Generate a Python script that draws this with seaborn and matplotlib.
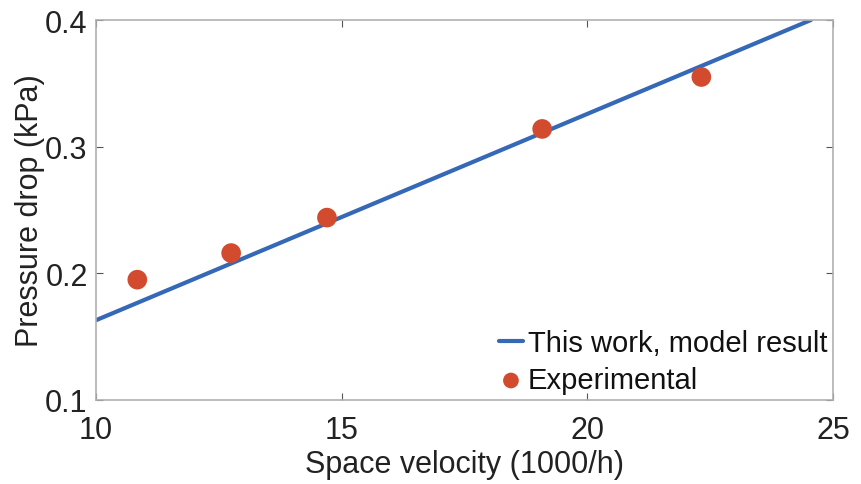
import numpy as np
import pandas as pd
import matplotlib
matplotlib.use("Agg")
import matplotlib.pyplot as plt
import seaborn as sns

# Data
model_x = [10.0, 24.55]
model_y = [0.163, 0.400]
exp_x = [10.84, 12.75, 14.70, 19.08, 22.32]
exp_y = [0.195, 0.216, 0.244, 0.314, 0.355]
xticks = [10, 15, 20, 25]
yticks = [0.1, 0.2, 0.3, 0.4]

sns.set_theme(style="white")
plt.rcParams['font.family'] = ['Liberation Sans', 'DejaVu Sans']

fig = plt.figure(figsize=(8.62, 4.85), dpi=100)
ax = fig.add_axes([0.1114, 0.1732, 0.855, 0.7835])

model_df = pd.DataFrame({"x": model_x, "y": model_y})
exp_df = pd.DataFrame({"x": exp_x, "y": exp_y})

sns.lineplot(data=model_df, x="x", y="y", ax=ax, color="#3668B8", linewidth=3.0,
             label="This work, model result")
sns.scatterplot(data=exp_df, x="x", y="y", ax=ax, color="#D34B2E", s=200,
                edgecolor="none", label="Experimental", zorder=3)

ax.set_xlim(10, 25)
ax.set_ylim(0.1, 0.4)
ax.set_xticks(xticks)
ax.set_yticks(yticks)
ax.set_xticklabels([str(t) for t in xticks])
ax.set_yticklabels([f"{t:.1f}" for t in yticks])
ax.tick_params(direction="in", length=5, width=0.8, color="#555555",
               labelsize=22, labelcolor="#222222", top=True, right=True,
               bottom=True, left=True)
ax.tick_params(axis="x", pad=11)
ax.tick_params(axis="y", pad=6)
for s in ax.spines.values():
    s.set_color("#B0B0B0")
    s.set_linewidth(1.2)

ax.set_xlabel("Space velocity (1000/h)", fontsize=22, color="#222222", labelpad=3)
ax.set_ylabel("Pressure drop (kPa)", fontsize=22, color="#222222", labelpad=0)

leg = ax.legend(loc="lower right", frameon=False, fontsize=21, handlelength=0.85,
                handletextpad=0.15, borderaxespad=0.0, borderpad=0.2,
                labelspacing=0.3, markerscale=0.8)
for t in leg.get_texts():
    t.set_color("#111111")

fig.savefig("out.png", dpi=100)
